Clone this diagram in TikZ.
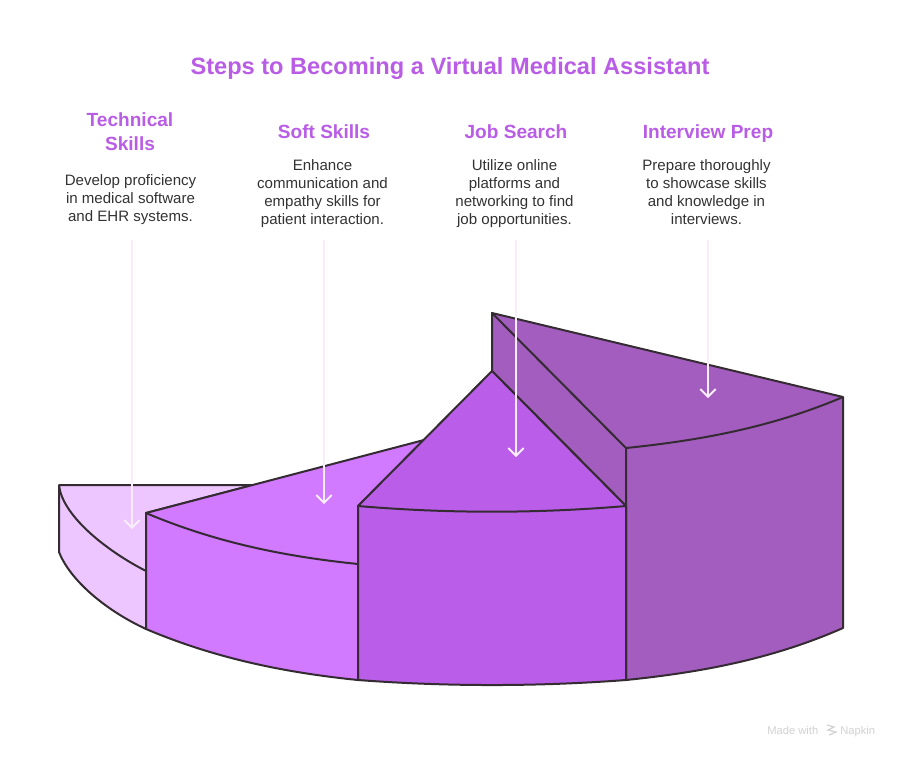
\documentclass[tikz,border=0pt]{standalone}
\usepackage{fontspec}
\setmainfont{Liberation Sans}
\usetikzlibrary{arrows.meta}
\definecolor{ttl}{HTML}{B95CE6}
\definecolor{ink}{HTML}{352B33}
\definecolor{body}{HTML}{333333}
\definecolor{ctech}{HTML}{EDC6FF}
\definecolor{csoft}{HTML}{D179FF}
\definecolor{cjob}{HTML}{BA5DE8}
\definecolor{cint}{HTML}{A35DBE}
\definecolor{carrow}{HTML}{F9EDFC}
\definecolor{cmark}{HTML}{D2D2D2}
\tikzset{
  x=0.75pt,y=-0.75pt,
  slab/.style={draw=ink,line width=1.5pt,line join=round},
  titlenode/.style={text=ttl,font=\fontsize{17.7}{22}\selectfont\bfseries,align=center},
  headnode/.style={text=ttl,anchor=north,inner sep=0pt,font=\fontsize{14.3}{18}\selectfont\bfseries,align=center},
  bodynode/.style={text=body,anchor=north,inner sep=0pt,font=\fontsize{11.3}{13.5}\selectfont,align=center},
  marknode/.style={text=cmark,anchor=base west,inner sep=0pt,font=\fontsize{8.4}{10}\selectfont},
  pointer/.style={draw=carrow,line width=1.5pt,-{Straight Barb[length=5.6pt,width=11.5pt,line width=1.5pt]}},
}
\begin{document}
\begin{tikzpicture}
\useasboundingbox (0,0) rectangle (900,757);
\fill[white] (0,0) rectangle (900,757);

% Technical Skills slice
\path[slab,fill=ctech] (59,485) -- (253,485) -- (146,513) -- (146,629)
  .. controls (105,610) and (70,580) .. (59,552) -- cycle;
\path[slab] (59,485) .. controls (62,515) and (105,550) .. (146,571);

% Soft Skills slice
\path[slab,fill=csoft] (146,513) -- (424,440) -- (358,506) -- (358,680)
  .. controls (287.3,672.8) and (216.7,659) .. (146,629) -- cycle;
\path[slab] (146,513) .. controls (216.7,543) and (287.3,556.8) .. (358,564);

% Interview Prep slice
\path[slab,fill=cint] (492,313) -- (843,397) -- (843,628)
  .. controls (770.7,659.8) and (698.3,672.6) .. (626,680) -- (626,506) -- (492,371) -- cycle;
\path[slab] (492,313) -- (626,448) -- (626,506);
\path[slab] (626,448) .. controls (698.3,440.6) and (770.7,427.8) .. (843,397);

% Job Search slice
\path[slab,fill=cjob] (358,506) -- (492,371) -- (626,506) -- (626,680)
  .. controls (537,686.7) and (447,686.7) .. (358,680) -- cycle;
\path[slab] (358,506) .. controls (447,513.6) and (537,513.6) .. (626,506);

% Title
\node[titlenode] (title) at (450,68) {Steps to Becoming a Virtual Medical Assistant};

% Headings
\node[headnode] (h1) at (130,112) {Technical\\Skills};
\node[headnode] (h2) at (324,124) {Soft Skills};
\node[headnode] (h3) at (516,124) {Job Search};
\node[headnode] (h4) at (708,124) {Interview Prep};

% Descriptions
\node[bodynode] (b1) at (130.5,174) {Develop proficiency\\in medical software\\and EHR systems.};
\node[bodynode] (b2) at (322.5,159) {Enhance\\communication and\\empathy skills for\\patient interaction.};
\node[bodynode] (b3) at (514.5,159) {Utilize online\\platforms and\\networking to find\\job opportunities.};
\node[bodynode] (b4) at (706.5,159) {Prepare thoroughly\\to showcase skills\\and knowledge in\\interviews.};

% Pointers
\coordinate (s1) at (132,240); \coordinate (e1) at (132,529);
\coordinate (s2) at (324,240); \coordinate (e2) at (324,504);
\coordinate (s3) at (516,240); \coordinate (e3) at (516,457);
\coordinate (s4) at (708,240); \coordinate (e4) at (708,398);
\draw[pointer] (s1) -- (e1);
\draw[pointer] (s2) -- (e2);
\draw[pointer] (s3) -- (e3);
\draw[pointer] (s4) -- (e4);

% Watermark
\node[marknode] (m1) at (767,734) {Made with};
\node[marknode] (m2) at (840,734) {Napkin};
\draw[cmark,line width=0.9pt] (827,725) -- (834,727) -- (828,730) -- (836,732) -- (829,735);
\end{tikzpicture}
\end{document}
